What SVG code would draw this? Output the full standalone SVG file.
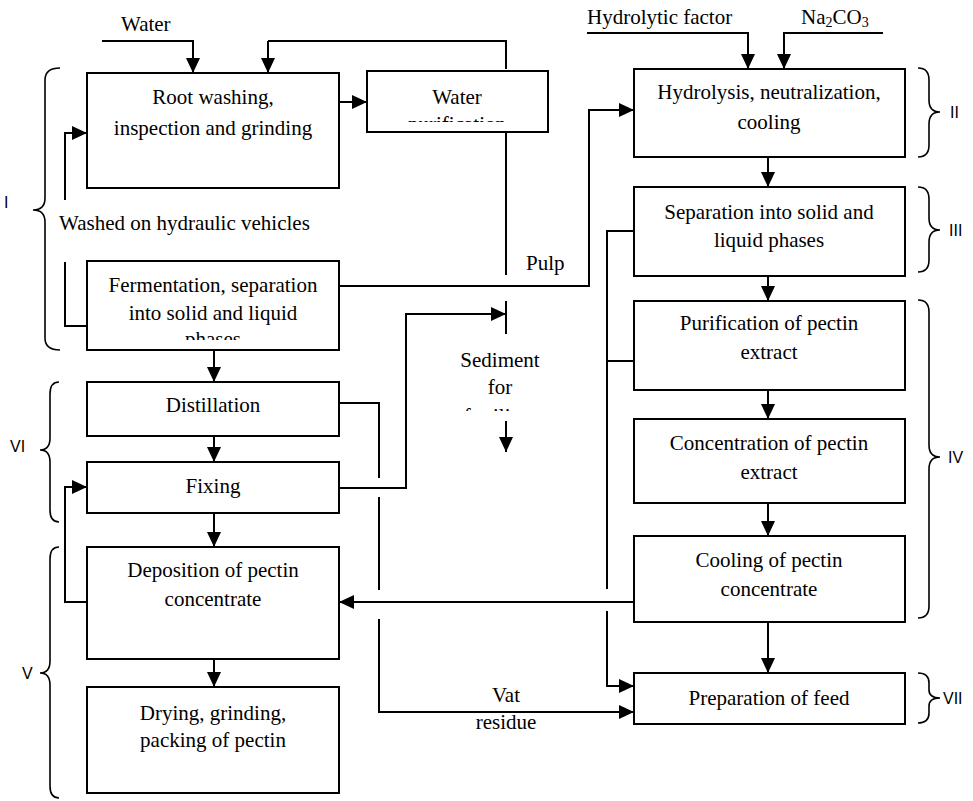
<svg xmlns="http://www.w3.org/2000/svg" width="973" height="801" viewBox="0 0 973 801">
<style>
.box{fill:#fff;stroke:#000;stroke-width:2}
.t{font-family:"Liberation Serif","Times New Roman",serif;font-size:21px;fill:#000;text-anchor:middle}
.tl{font-family:"Liberation Serif","Times New Roman",serif;font-size:21px;fill:#000}
.r{font-family:"Liberation Sans",Arial,sans-serif;font-size:16px;fill:#000}
.c{fill:none;stroke:#000;stroke-width:2}
.ca{fill:none;stroke:#000;stroke-width:2;marker-end:url(#ah)}
.br{fill:none;stroke:#000;stroke-width:1.6}
</style>
<defs>
<marker id="ah" markerUnits="userSpaceOnUse" markerWidth="15" markerHeight="14" refX="15" refY="7" orient="auto">
<path d="M0,0 L15,7 L0,14 z" fill="#000"/>
</marker>
<clipPath id="clipWP"><rect x="360" y="60" width="200" height="62"/></clipPath>
<clipPath id="clipFe"><rect x="80" y="250" width="270" height="90"/></clipPath>
<clipPath id="clipSe"><rect x="430" y="340" width="140" height="71"/></clipPath>
</defs>

<g id="connectors">
<path class="ca" d="M102,41 H193 V73"/>
<path class="c" d="M506,69 V41 H268"/>
<path class="ca" d="M268,41 V73"/>
<path class="ca" d="M339,102 H367"/>
<path class="c" d="M506,132 V275"/>
<path class="ca" d="M65,200 V133 H87"/>
<path class="c" d="M65,262 V326 H87"/>
<path class="ca" d="M339,286 H589 V110 H634"/>
<path class="ca" d="M587,33 H748 V69"/>
<path class="ca" d="M883,33 H784 V69"/>
<path class="c" d="M506,301 V334"/>
<path class="ca" d="M339,488 H406 V314 H506"/>
<path class="ca" d="M506,421 V452"/>
<path class="c" d="M339,403 H379 V478"/>
<path class="c" d="M379,497 V590"/>
<path class="ca" d="M379,619 V712 H634"/>
<path class="c" d="M634,231 H607 V589"/>
<path class="ca" d="M607,611 V686 H634"/>
<path class="c" d="M607,361 H634"/>
<path class="ca" d="M634,602 H339"/>
<path class="ca" d="M87,602 H65 V487 H87"/>
<path class="ca" d="M214,350 V382"/>
<path class="ca" d="M214,436 V462"/>
<path class="ca" d="M214,513 V547"/>
<path class="ca" d="M214,659 V687"/>
<path class="ca" d="M768,157 V187"/>
<path class="ca" d="M768,276 V301"/>
<path class="ca" d="M768,390 V419"/>
<path class="ca" d="M768,503 V536"/>
<path class="ca" d="M768,622 V673"/>
</g>

<g id="labels">
<text class="tl" x="121" y="31">Water</text>
<text class="tl" x="587" y="24">Hydrolytic factor</text>
<text class="tl" x="801" y="24">Na<tspan font-size="14" dy="3">2</tspan><tspan dy="-3">CO</tspan><tspan font-size="14" dy="3">3</tspan></text>
<text class="tl" x="59" y="230">Washed on hydraulic vehicles</text>
<text class="tl" x="526" y="270">Pulp</text>
<g clip-path="url(#clipSe)">
<text class="t" x="500" y="367">Sediment</text>
<text class="t" x="500" y="394">for</text>
<text class="t" x="500" y="423">fertilizer</text>
</g>
<text class="t" x="506" y="702">Vat</text>
<text class="t" x="506" y="729">residue</text>
</g>

<g id="braces">
<path class="br" d="M60,68 Q45,68 45,80 V198 Q45,210 33,210 Q45,210 45,222 V338 Q45,350 60,350"/>
<text class="r" x="4" y="208">I</text>
<path class="br" d="M59,382 Q50,382 50,394 V438 Q50,450 40,450 Q50,450 50,462 V510 Q50,522 59,522"/>
<text class="r" x="10" y="452">VI</text>
<path class="br" d="M59,547 Q50,547 50,559 V661 Q50,673 40,673 Q50,673 50,685 V786 Q50,798 59,798"/>
<text class="r" x="22" y="679">V</text>
<path class="br" d="M918,68 Q929,68 929,80 V100 Q929,112 940,112 Q929,112 929,124 V145 Q929,157 918,157"/>
<text class="r" x="950" y="118">II</text>
<path class="br" d="M918,187 Q929,187 929,199 V218 Q929,230 940,230 Q929,230 929,242 V260 Q929,272 918,272"/>
<text class="r" x="949" y="236">III</text>
<path class="br" d="M918,300 Q929,300 929,312 V445 Q929,457 940,457 Q929,457 929,469 V606 Q929,618 918,618"/>
<text class="r" x="948" y="463">IV</text>
<path class="br" d="M918,673 Q929,673 929,683 V690 Q929,698 940,698 Q929,698 929,706 V713 Q929,723 918,723"/>
<text class="r" x="943" y="704">VII</text>
</g>

<g id="n-root-washing">
<rect class="box" x="87" y="73" width="252" height="115"/>
<text class="t" x="213" y="104">Root washing,</text>
<text class="t" x="213" y="135">inspection and grinding</text>
</g>
<g id="n-water-purification">
<rect class="box" x="367" y="71" width="181" height="61"/>
<g clip-path="url(#clipWP)">
<text class="t" x="457" y="104">Water</text>
<text class="t" x="457" y="131">purification</text>
</g>
</g>
<g id="n-fermentation">
<rect class="box" x="87" y="261" width="252" height="89"/>
<g clip-path="url(#clipFe)">
<text class="t" x="213" y="292">Fermentation, separation</text>
<text class="t" x="213" y="320">into solid and liquid</text>
<text class="t" x="213" y="346">phases</text>
</g>
</g>
<g id="n-distillation">
<rect class="box" x="87" y="382" width="252" height="54"/>
<text class="t" x="213" y="412">Distillation</text>
</g>
<g id="n-fixing">
<rect class="box" x="87" y="462" width="252" height="51"/>
<text class="t" x="213" y="493">Fixing</text>
</g>
<g id="n-deposition">
<rect class="box" x="87" y="547" width="252" height="112"/>
<text class="t" x="213" y="577">Deposition of pectin</text>
<text class="t" x="213" y="606">concentrate</text>
</g>
<g id="n-drying">
<rect class="box" x="87" y="687" width="252" height="106"/>
<text class="t" x="213" y="720">Drying, grinding,</text>
<text class="t" x="213" y="747">packing of pectin</text>
</g>
<g id="n-hydrolysis">
<rect class="box" x="634" y="69" width="271" height="88"/>
<text class="t" x="769" y="99">Hydrolysis, neutralization,</text>
<text class="t" x="769" y="129">cooling</text>
</g>
<g id="n-separation">
<rect class="box" x="634" y="187" width="271" height="89"/>
<text class="t" x="769" y="219">Separation into solid and</text>
<text class="t" x="769" y="247">liquid phases</text>
</g>
<g id="n-purification">
<rect class="box" x="634" y="301" width="271" height="89"/>
<text class="t" x="769" y="330">Purification of pectin</text>
<text class="t" x="769" y="359">extract</text>
</g>
<g id="n-concentration">
<rect class="box" x="634" y="419" width="271" height="84"/>
<text class="t" x="769" y="450">Concentration of pectin</text>
<text class="t" x="769" y="479">extract</text>
</g>
<g id="n-cooling">
<rect class="box" x="634" y="536" width="271" height="86"/>
<text class="t" x="769" y="567">Cooling of pectin</text>
<text class="t" x="769" y="596">concentrate</text>
</g>
<g id="n-feed">
<rect class="box" x="634" y="673" width="271" height="51"/>
<text class="t" x="769" y="705">Preparation of feed</text>
</g>
</svg>
